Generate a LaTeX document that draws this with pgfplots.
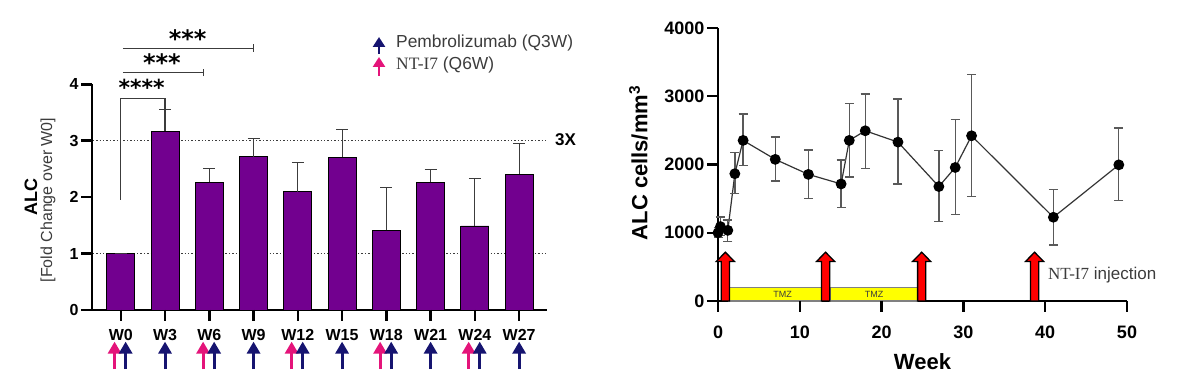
\documentclass[border=0pt]{standalone}
\usepackage{fontspec}
\setmainfont{Liberation Sans}
\newfontfamily\seriffont{Liberation Serif}
\newfontfamily\djv{DejaVu Sans}
\usepackage{pgfplots}
\pgfplotsset{compat=1.18}
\usepackage{pgfplotstable}
\usetikzlibrary{arrows.meta}

\definecolor{barpurple}{RGB}{114,0,143}
\definecolor{navyarr}{RGB}{22,20,112}
\definecolor{pinkarr}{RGB}{228,20,122}
\definecolor{errgray}{RGB}{60,60,60}
\definecolor{txtgray}{RGB}{60,60,60}
\definecolor{tmzyellow}{RGB}{255,255,0}

\tikzset{
  dosearr/.style={line width=3pt, -{Triangle[length=12pt,width=13pt]}},
  tk/.style={draw=black, line width=2.5pt},
}

\pgfplotstableread{
x y e
0 1.00 0
1 3.17 0.39
2 2.26 0.24
3 2.72 0.32
4 2.10 0.52
5 2.71 0.49
6 1.41 0.76
7 2.26 0.23
8 1.49 0.84
9 2.41 0.54
}\foldtable

\pgfplotstableread{
w alc ep em
0.0 1000 80 70
0.3 1090 140 130
1.2 1035 150 160
2.06 1865 307 293
3.07 2353 385 366
7.0 2075 326 318
11.05 1855 356 351
15.05 1715 352 350
16.05 2353 540 537
18.0 2494 538 548
22.0 2328 630 612
27.0 1677 528 513
29.0 1956 699 685
31.0 2421 894 891
41.0 1227 411 406
49.0 1995 538 523
}\alctable

\begin{document}
\begin{tikzpicture}
\useasboundingbox (0,0) rectangle (1186pt,385pt);

% ---------------- left chart ----------------
\begin{axis}[
  at={(92pt,75pt)}, anchor=south west, scale only axis,
  width=455pt, height=225.7pt,
  xmin=-0.65, xmax=9.63, ymin=0, ymax=4,
  axis x line=bottom, axis y line=left,
  axis line style={-, line width=2.5pt},
  xtick={0,...,9},
  xticklabels={W0,W3,W6,W9,W12,W15,W18,W21,W24,W27},
  ytick={0,1,2,3,4},
  xtick pos=bottom, ytick pos=left,
  tick align=outside, major tick length=10pt,
  every tick/.style={draw=black, line width=2.5pt},
  ticklabel style={font=\fontsize{16}{16}\selectfont\bfseries},
  xticklabel style={yshift=-6pt},
  /pgf/number format/assume math mode=true,
  clip=false,
]
\addplot[txtgray, line width=1.2pt, dash pattern=on 1.4pt off 2pt] coordinates {(-0.63,1) (9.63,1)};
\addplot[txtgray, line width=1.2pt, dash pattern=on 1.4pt off 2pt] coordinates {(-0.63,3) (9.63,3)};
\addplot[ybar, bar width=28pt, fill=barpurple, draw=black, line width=0.8pt,
  error bars/.cd, y dir=plus, y explicit,
  error bar style={line width=1.1pt, errgray},
  error mark options={rotate=90, mark size=6pt, line width=1.1pt, errgray}]
  table[x=x, y=y, y error plus=e] {\foldtable};

% tick marks
\draw[tk] (axis cs:0,0) -- ([yshift=-11pt]axis cs:0,0);
\draw[tk] (axis cs:1,0) -- ([yshift=-11pt]axis cs:1,0);
\draw[tk] (axis cs:2,0) -- ([yshift=-11pt]axis cs:2,0);
\draw[tk] (axis cs:3,0) -- ([yshift=-11pt]axis cs:3,0);
\draw[tk] (axis cs:4,0) -- ([yshift=-11pt]axis cs:4,0);
\draw[tk] (axis cs:5,0) -- ([yshift=-11pt]axis cs:5,0);
\draw[tk] (axis cs:6,0) -- ([yshift=-11pt]axis cs:6,0);
\draw[tk] (axis cs:7,0) -- ([yshift=-11pt]axis cs:7,0);
\draw[tk] (axis cs:8,0) -- ([yshift=-11pt]axis cs:8,0);
\draw[tk] (axis cs:9,0) -- ([yshift=-11pt]axis cs:9,0);
\draw[tk] (axis cs:-0.65,0) -- ([xshift=-11pt]axis cs:-0.65,0);
\draw[tk] (axis cs:-0.65,1) -- ([xshift=-11pt]axis cs:-0.65,1);
\draw[tk] (axis cs:-0.65,2) -- ([xshift=-11pt]axis cs:-0.65,2);
\draw[tk] (axis cs:-0.65,3) -- ([xshift=-11pt]axis cs:-0.65,3);
\draw[tk] ([yshift=1.25pt]axis cs:-0.65,4) -- ([yshift=1.25pt]axis cs:-0.65,4) (axis cs:-0.65,4) -- ([xshift=-11pt]axis cs:-0.65,4);

% significance brackets
\draw[errgray, line width=1.1pt] (axis cs:0,1.95) -- (axis cs:0,3.75) -- (axis cs:1,3.75) -- (axis cs:1,3.57);
\draw[errgray, line width=1.1pt] (axis cs:0.045,4.21) -- (axis cs:1.87,4.21);
\draw[errgray, line width=1.1pt] ([yshift=-3.7pt]axis cs:1.87,4.21) -- ([yshift=3.7pt]axis cs:1.87,4.21);
\draw[errgray, line width=1.1pt] (axis cs:0.045,4.64) -- (axis cs:2.99,4.64);
\draw[errgray, line width=1.1pt] ([yshift=-3.7pt]axis cs:2.99,4.64) -- ([yshift=3.7pt]axis cs:2.99,4.64);
\node[anchor=north, inner sep=0pt, font=\djv\bfseries\fontsize{22}{22}\selectfont] at (axis cs:0.47,4.09) {****};
\node[anchor=north, inner sep=0pt, font=\djv\bfseries\fontsize{24}{24}\selectfont] at (axis cs:0.93,4.55) {***};
\node[anchor=north, inner sep=0pt, font=\djv\bfseries\fontsize{24}{24}\selectfont] at (axis cs:1.51,4.98) {***};

% dosing arrows under categories
\draw[pinkarr, dosearr] (axis cs:-0.14,-1.05) -- (axis cs:-0.14,-0.56);
\draw[navyarr, dosearr] (axis cs:0.11,-1.05) -- (axis cs:0.11,-0.56);
\draw[navyarr, dosearr] (axis cs:1,-1.05) -- (axis cs:1,-0.56);
\draw[pinkarr, dosearr] (axis cs:1.86,-1.05) -- (axis cs:1.86,-0.56);
\draw[navyarr, dosearr] (axis cs:2.11,-1.05) -- (axis cs:2.11,-0.56);
\draw[navyarr, dosearr] (axis cs:3,-1.05) -- (axis cs:3,-0.56);
\draw[pinkarr, dosearr] (axis cs:3.86,-1.05) -- (axis cs:3.86,-0.56);
\draw[navyarr, dosearr] (axis cs:4.11,-1.05) -- (axis cs:4.11,-0.56);
\draw[navyarr, dosearr] (axis cs:5,-1.05) -- (axis cs:5,-0.56);
\draw[pinkarr, dosearr] (axis cs:5.86,-1.05) -- (axis cs:5.86,-0.56);
\draw[navyarr, dosearr] (axis cs:6.11,-1.05) -- (axis cs:6.11,-0.56);
\draw[navyarr, dosearr] (axis cs:7,-1.05) -- (axis cs:7,-0.56);
\draw[pinkarr, dosearr] (axis cs:7.86,-1.05) -- (axis cs:7.86,-0.56);
\draw[navyarr, dosearr] (axis cs:8.11,-1.05) -- (axis cs:8.11,-0.56);
\draw[navyarr, dosearr] (axis cs:9,-1.05) -- (axis cs:9,-0.56);
\end{axis}

% left labels
\node[rotate=90, font=\fontsize{18}{18}\selectfont\bfseries] at (31pt,188pt) {ALC};
\node[rotate=90, font=\fontsize{16}{16}\selectfont, txtgray] at (48pt,185pt) {[Fold Change over W0]};
\node[anchor=west, inner sep=0pt, font=\fontsize{17}{17}\selectfont\bfseries] at (555pt,245pt) {3X};

% legend
\draw[navyarr, line width=2.6pt, -{Triangle[length=10pt,width=12pt]}] (379pt,331pt) -- (379pt,348pt);
\draw[pinkarr, line width=2.6pt, -{Triangle[length=10pt,width=12pt]}] (379pt,309pt) -- (379pt,328pt);
\node[anchor=west, inner sep=0pt, font=\fontsize{17.4}{17.4}\selectfont, txtgray] at (396pt,342pt) {Pembrolizumab (Q3W)};
\node[anchor=west, inner sep=0pt, font=\fontsize{17.4}{17.4}\selectfont, txtgray] at (396pt,320pt) {{\seriffont NT-I7} (Q6W)};

% ---------------- right chart ----------------
\begin{axis}[
  at={(718pt,84pt)}, anchor=south west, scale only axis,
  width=409pt, height=273pt,
  xmin=0, xmax=50, ymin=0, ymax=4000,
  axis x line=bottom, axis y line=left,
  axis line style={-, line width=2.3pt},
  xtick={0,10,...,50}, ytick={0,1000,...,4000},
  xtick pos=bottom, ytick pos=left,
  tick align=outside, major tick length=10pt,
  every tick/.style={draw=black, line width=2.3pt},
  ticklabel style={font=\fontsize{18}{18}\selectfont\bfseries},
  xticklabel style={yshift=-11pt},
  /pgf/number format/assume math mode=true,
  /pgf/number format/1000 sep={},
  clip=false,
]
% TMZ periods
\draw[fill=tmzyellow, draw=gray, line width=1.2pt] (axis cs:1.35,0) rectangle (axis cs:12.7,200);
\draw[fill=tmzyellow, draw=gray, line width=1.2pt] (axis cs:13.7,0) rectangle (axis cs:24.4,200);
\node[font=\fontsize{9}{9}\selectfont, txtgray] at (axis cs:7.9,100) {TMZ};
\node[font=\fontsize{9}{9}\selectfont, txtgray] at (axis cs:19.1,100) {TMZ};
% NT-I7 injections
\draw[fill=red, draw=black, line width=1.3pt, line join=miter]
  (axis cs:0.4,0) -- (axis cs:0.4,580) -- (axis cs:-0.2,580) -- (axis cs:0.9,715)
  -- (axis cs:2.0,580) -- (axis cs:1.4,580) -- (axis cs:1.4,0) -- cycle;
\draw[fill=red, draw=black, line width=1.3pt, line join=miter]
  (axis cs:12.65,0) -- (axis cs:12.65,580) -- (axis cs:12.05,580) -- (axis cs:13.15,715)
  -- (axis cs:14.25,580) -- (axis cs:13.65,580) -- (axis cs:13.65,0) -- cycle;
\draw[fill=red, draw=black, line width=1.3pt, line join=miter]
  (axis cs:24.4,0) -- (axis cs:24.4,580) -- (axis cs:23.8,580) -- (axis cs:24.9,715)
  -- (axis cs:26.0,580) -- (axis cs:25.4,580) -- (axis cs:25.4,0) -- cycle;
\draw[fill=red, draw=black, line width=1.3pt, line join=miter]
  (axis cs:38.2,0) -- (axis cs:38.2,580) -- (axis cs:37.6,580) -- (axis cs:38.7,715)
  -- (axis cs:39.8,580) -- (axis cs:39.2,580) -- (axis cs:39.2,0) -- cycle;

% tick marks
\draw[tk, line width=2.3pt] (axis cs:0,0) -- ([yshift=-11pt]axis cs:0,0);
\draw[tk, line width=2.3pt] (axis cs:10,0) -- ([yshift=-11pt]axis cs:10,0);
\draw[tk, line width=2.3pt] (axis cs:20,0) -- ([yshift=-11pt]axis cs:20,0);
\draw[tk, line width=2.3pt] (axis cs:30,0) -- ([yshift=-11pt]axis cs:30,0);
\draw[tk, line width=2.3pt] (axis cs:40,0) -- ([yshift=-11pt]axis cs:40,0);
\draw[tk, line width=2.3pt] (axis cs:50,0) -- ([yshift=-11pt]axis cs:50,0);
\draw[tk, line width=2.3pt] (axis cs:0,0) -- ([xshift=-11pt]axis cs:0,0);
\draw[tk, line width=2.3pt] (axis cs:0,1000) -- ([xshift=-11pt]axis cs:0,1000);
\draw[tk, line width=2.3pt] (axis cs:0,2000) -- ([xshift=-11pt]axis cs:0,2000);
\draw[tk, line width=2.3pt] (axis cs:0,3000) -- ([xshift=-11pt]axis cs:0,3000);
\draw[tk, line width=2.3pt] (axis cs:0,4000) -- ([xshift=-11pt]axis cs:0,4000);

\addplot[color=black!80, line width=1.2pt, mark=*, mark size=4.8pt,
  mark options={fill=black, draw=black},
  error bars/.cd, y dir=both, y explicit,
  error bar style={line width=1.3pt, black!65},
  error mark options={rotate=90, mark size=4.5pt, line width=1.3pt, black!65}]
  table[x=w, y=alc, y error plus=ep, y error minus=em] {\alctable};
\end{axis}

\node[anchor=west, inner sep=0pt, font=\fontsize{17}{17}\selectfont, txtgray] at (1048pt,110pt) {{\seriffont NT-I7} injection};
\node[rotate=90, font=\fontsize{22}{22}\selectfont\bfseries] at (638.5pt,222pt) {ALC cells/mm\textsuperscript{3}};
\node[font=\fontsize{22}{22}\selectfont\bfseries] at (922.5pt,23pt) {Week};

\end{tikzpicture}
\end{document}
